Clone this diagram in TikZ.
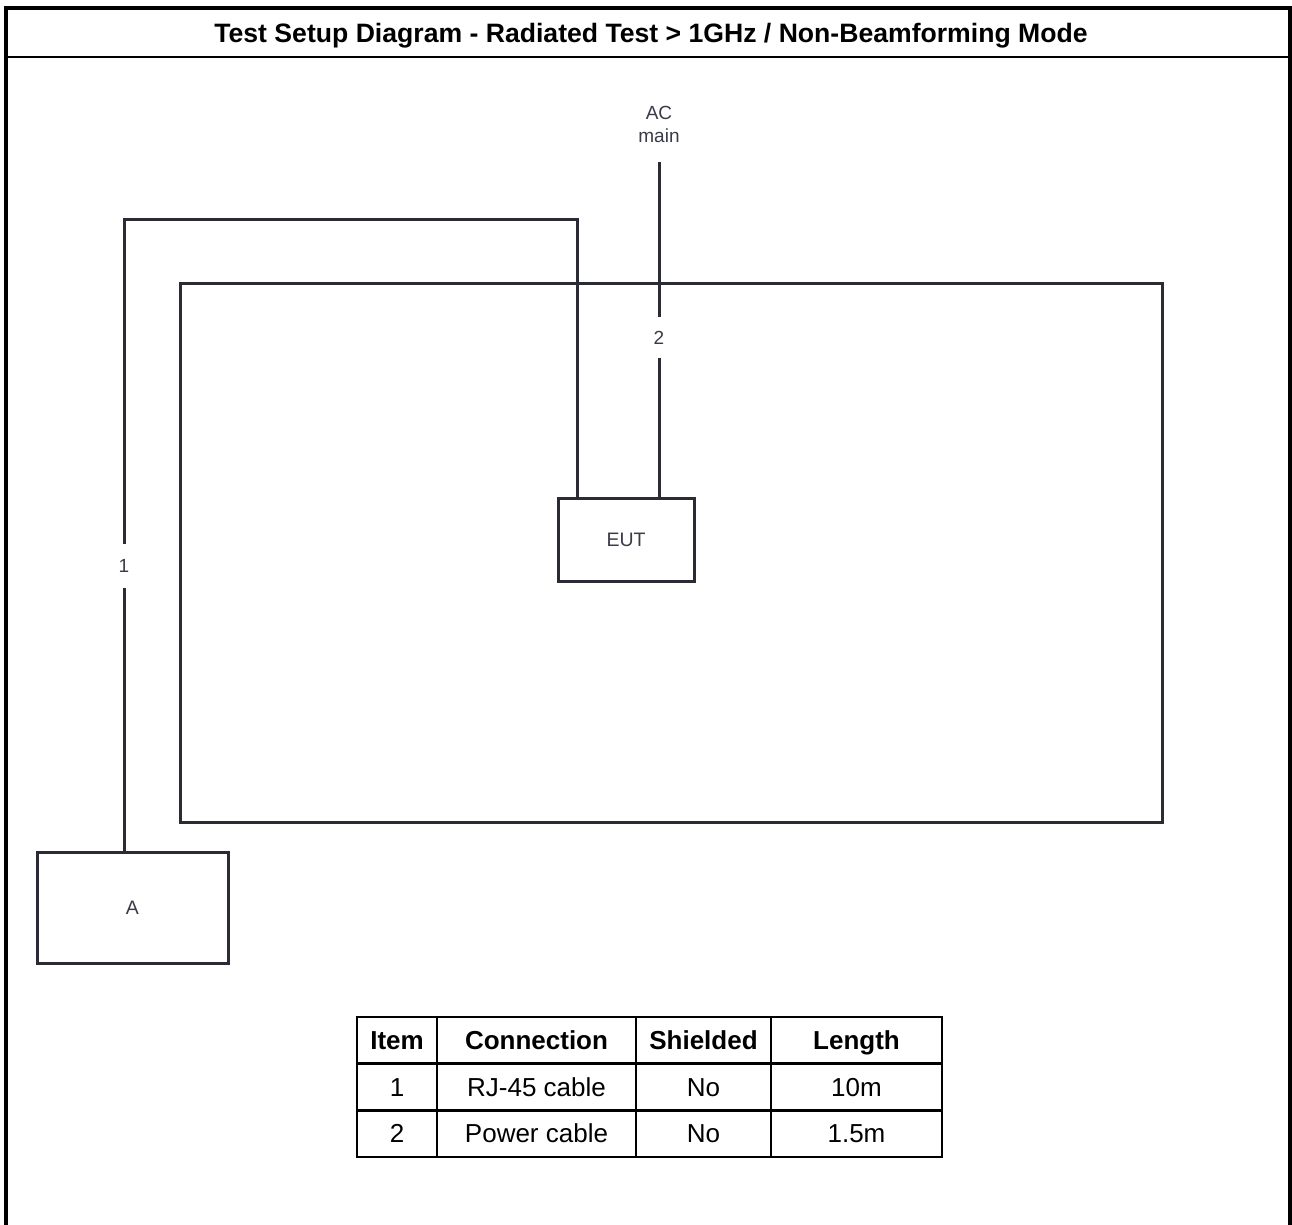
\documentclass[tikz,border=0pt]{standalone}
\usepackage{fontspec}
\setmainfont{Liberation Sans}
\usetikzlibrary{matrix}

\definecolor{wire}{HTML}{2B2B35}
\definecolor{lbltext}{HTML}{3A3A48}

\begin{document}
\begin{tikzpicture}[x=1pt,y=-1pt,line join=miter,
  wire/.style={draw=wire,line width=3},
  unit/.style={wire,inner sep=0pt,font=\fontsize{19.5}{23}\selectfont,text=lbltext},
  tag/.style={inner sep=0pt,minimum width=8,font=\fontsize{19}{23}\selectfont,text=lbltext}]
  % Page frame with the title strip, then the room, the units and their leads.
  \useasboundingbox (0,0) rectangle (1292,1225);
  \draw[line width=4.5] (6,1225) -- (6,8) -- (1290,8) -- (1290,1225);
  \draw[line width=2.8] (6,57) -- (1290,57);
  \node[font=\bfseries\fontsize{26.6}{30}\selectfont] (title) at (651,35.5)
    {Test Setup Diagram - Radiated Test > 1GHz / Non-Beamforming Mode};
  \draw[wire] (180,283) rectangle (1162,822);
  \node[unit,minimum width=136,minimum height=83] (eut) at (626,539.5) {EUT};
  \node[unit,minimum width=191,minimum height=111] (a) at (132.5,907.5) {A};
  \node[tag,minimum height=44] (n1) at (124,566) {1};
  \node[tag,minimum height=40] (n2) at (659,337.5) {2};
  \node[tag,align=center] (ac) at (659,124) {AC\\main};
  \coordinate (top1) at (124,219);
  \coordinate (top2) at (577,219);
  \coordinate (feed) at (659,162);
  \draw[wire] (top2 |- eut.north) -- (top2) -- (top1) -- (n1);
  \draw[wire] (n1) -- (n1 |- a.north);
  \draw[wire] (feed |- eut.north) -- (n2);
  \draw[wire] (n2) -- (feed);
  \matrix (tbl) [matrix of nodes,column sep=-2.5,row sep=-2.5,
    nodes={draw,line width=2.5,minimum height=46.7,inner sep=0pt,text height=19,text depth=1,
      font=\fontsize{26}{30}\selectfont},
    column 1/.style={nodes={minimum width=80}},
    column 2/.style={nodes={minimum width=199}},
    column 3/.style={nodes={minimum width=135}},
    column 4/.style={nodes={minimum width=171}},
    row 1/.style={nodes={font=\bfseries\fontsize{26}{30}\selectfont}}] at (649.5,1087)
  {Item & Connection & Shielded & Length\\
   1 & RJ-45 cable & No & 10m\\
   2 & Power cable & No & 1.5m\\};
\end{tikzpicture}
\end{document}
